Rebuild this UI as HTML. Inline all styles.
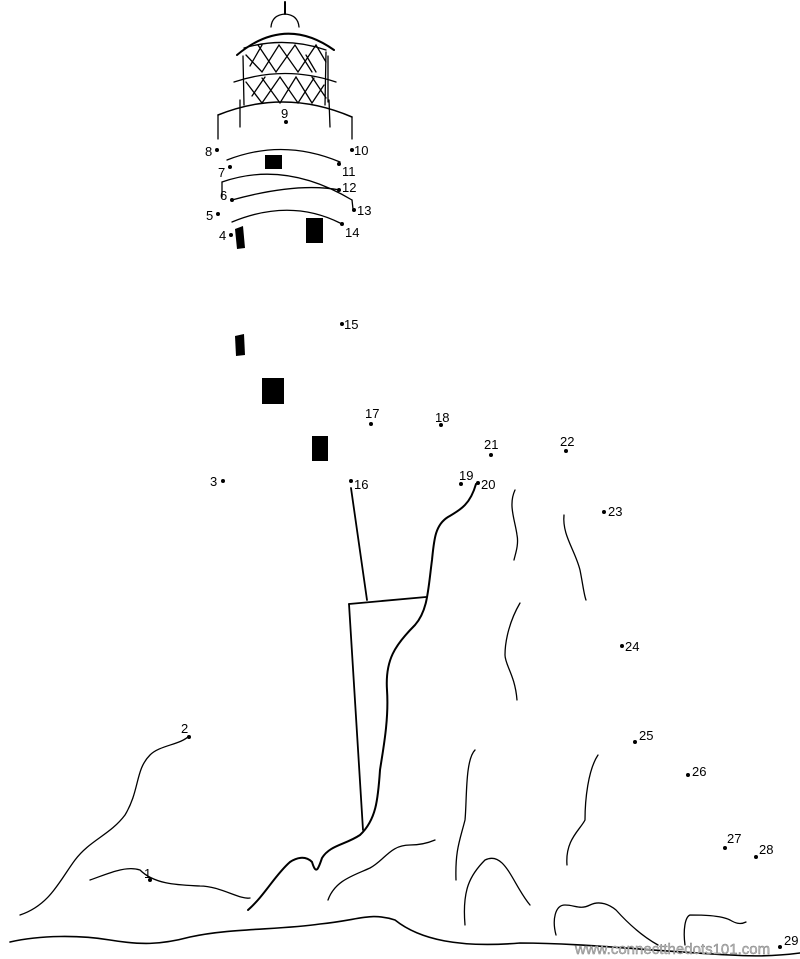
<!DOCTYPE html>
<html><head><style>body{margin:0;background:#fff}svg{display:block}text{font-family:"Liberation Sans",sans-serif;font-size:13px;fill:#000}</style></head><body>
<svg width="800" height="959" viewBox="0 0 800 959" xmlns="http://www.w3.org/2000/svg">
<g fill="none" stroke="#000" stroke-width="1.3" stroke-linecap="round">
<line x1="285" y1="2" x2="285" y2="14" stroke-width="2"/>
<path d="M271 27 Q272 15 285 14 Q298 15 299 27"/>
<path d="M237 55 Q285 15 334 50" stroke-width="2"/>
<path d="M244 48 Q285 36 326 50"/>
<path d="M243 56 L244 105 M326 52 L325 105 M328 56 L328 102"/>
<path d="M234 82 Q285 65 336 82"/>
<path d="M246 55 L262 72 L279 45 L298 72 L316 45 L326 62 M258 45 L276 72 L295 45 L312 72 M250 66 L262 45 M316 72 L306 55"/>
<path d="M246 82 L262 103 L280 77 L298 103 L314 78 M262 78 L280 103 L296 77 L312 103 L324 85 M252 96 L265 77 M312 77 L326 98"/>
<path d="M218 115 Q285 88 352 117" stroke-width="1.5"/>
<path d="M218 115 L218 139 M352 117 L352 139 M240 100 L240 127 M329 100 L330 127"/>
<path d="M227 160 Q283 138 340 162"/>
<path d="M222 182 Q285 160 352 200"/>
<path d="M232 200 Q297 182 340 190"/>
<path d="M232 222 Q290 198 340 223"/>
<path d="M222 182 L222 197 M352 200 L353 209"/>
</g>
<g fill="#000">
<rect x="265" y="155" width="17" height="14"/>
<polygon points="235,229 243,226 245,248 237,249"/>
<rect x="306" y="218" width="17" height="25"/>
<polygon points="235,336 244,334 245,355 236,356"/>
<rect x="262" y="378" width="22" height="26"/>
<rect x="312" y="436" width="16" height="25"/>
</g>
<g fill="none" stroke="#000" stroke-width="1.3" stroke-linecap="round">
<path d="M351 488 L367 600" stroke-width="1.8"/>
<path d="M349 604 L426 597" stroke-width="1.8"/>
<path d="M349 604 L363 830" stroke-width="1.8"/>
<path d="M476 484 C470 505 460 510 448 517 C435 525 434 540 432 560 C428 590 428 610 415 625 C395 645 385 660 387 690 C389 720 383 750 380 770 C378 800 376 820 360 835 C345 845 330 845 322 858 C318 870 316 875 312 862 C305 855 296 858 290 862 C275 875 265 895 248 910" stroke-width="2"/>
<path d="M515 490 C508 505 515 520 517 535 C519 545 515 555 514 560"/>
<path d="M564 515 C562 535 575 550 580 570 C583 585 584 595 586 600"/>
<path d="M520 603 C510 620 505 640 505 655 C505 665 515 675 517 700"/>
<path d="M189 736 C180 745 160 745 150 755 C135 770 140 790 125 815 C110 835 90 840 75 860 C60 880 50 905 20 915"/>
<path d="M90 880 C105 875 125 865 140 870 C155 885 180 885 200 886 C220 886 240 900 250 898"/>
<path d="M328 900 C335 880 355 875 370 868 C385 860 390 845 410 845 C420 845 428 843 435 840"/>
<path d="M475 750 C465 760 467 800 465 820 C460 840 455 850 456 880"/>
<path d="M465 925 C462 890 470 875 485 860 C505 850 513 885 530 905"/>
<path d="M598 755 C588 770 585 800 585 820 C580 830 565 840 567 865"/>
<path d="M556 935 C552 920 555 905 565 905 C575 905 580 910 590 905 C600 900 610 905 616 910 C625 920 640 935 658 945"/>
<path d="M685 945 C683 930 685 917 690 915 C700 915 720 915 730 920 C735 923 740 925 746 922"/>
<path d="M10 942 C40 935 80 935 110 940 C140 945 160 945 190 937 C230 928 280 930 320 924 C360 920 370 912 395 920 C420 940 460 948 520 943 C580 943 640 950 730 955 C760 957 785 955 800 953" stroke-width="1.6"/>
</g>
<g fill="#000">
<circle cx="150" cy="880" r="2"/><circle cx="189" cy="737" r="2"/><circle cx="223" cy="481" r="2"/>
<circle cx="231" cy="235" r="2"/><circle cx="218" cy="214" r="2"/><circle cx="232" cy="200" r="2"/><circle cx="230" cy="167" r="2"/><circle cx="217" cy="150" r="2"/>
<circle cx="286" cy="122" r="2"/><circle cx="352" cy="150" r="2"/><circle cx="339" cy="164" r="2"/><circle cx="339" cy="190" r="2"/><circle cx="354" cy="210" r="2"/><circle cx="342" cy="224" r="2"/>
<circle cx="342" cy="324" r="2"/><circle cx="351" cy="481" r="2"/><circle cx="371" cy="424" r="2"/><circle cx="441" cy="425" r="2"/>
<circle cx="461" cy="484" r="2"/><circle cx="478" cy="483" r="2"/><circle cx="491" cy="455" r="2"/><circle cx="566" cy="451" r="2"/>
<circle cx="604" cy="512" r="2"/><circle cx="622" cy="646" r="2"/><circle cx="635" cy="742" r="2"/><circle cx="688" cy="775" r="2"/>
<circle cx="725" cy="848" r="2"/><circle cx="756" cy="857" r="2"/><circle cx="780" cy="947" r="2"/>
</g>
<text x="144" y="878">1</text><text x="181" y="733">2</text><text x="210" y="486">3</text>
<text x="219" y="240">4</text><text x="206" y="220">5</text><text x="220" y="200">6</text><text x="218" y="177">7</text><text x="205" y="156">8</text>
<text x="281" y="118">9</text><text x="354" y="155">10</text><text x="342" y="176">11</text><text x="342" y="192">12</text><text x="357" y="215">13</text><text x="345" y="237">14</text>
<text x="344" y="329">15</text><text x="354" y="489">16</text><text x="365" y="418">17</text><text x="435" y="422">18</text>
<text x="459" y="480">19</text><text x="481" y="489">20</text><text x="484" y="449">21</text><text x="560" y="446">22</text>
<text x="608" y="516">23</text><text x="625" y="651">24</text><text x="639" y="740">25</text><text x="692" y="776">26</text>
<text x="727" y="843">27</text><text x="759" y="854">28</text><text x="784" y="945">29</text>
<text x="575" y="954" style="font-size:15px;fill:#bbb;stroke:#777;stroke-width:0.4">www.connectthedots101.com</text>
</svg>
</body></html>
